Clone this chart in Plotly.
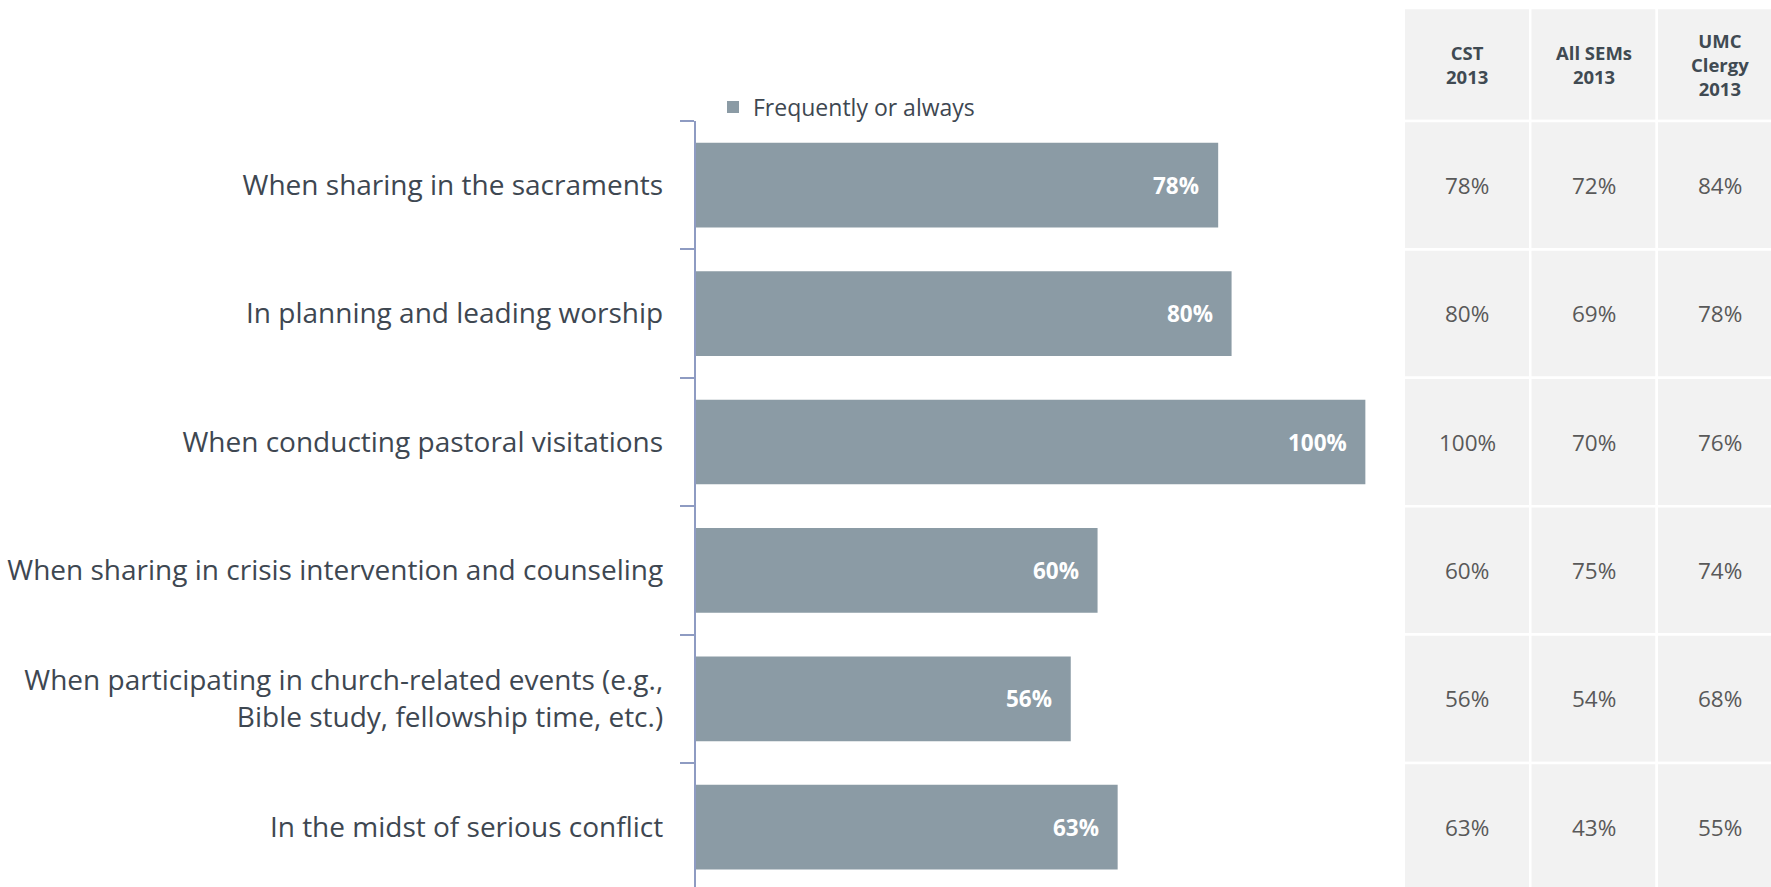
import plotly.graph_objects as go

# ---- data ----
categories = [
    "When sharing in the sacraments",
    "In planning and leading worship",
    "When conducting pastoral visitations",
    "When sharing in crisis intervention and counseling",
    "When participating in church-related events (e.g.,<br>Bible study, fellowship time, etc.)",
    "In the midst of serious conflict",
]
frequently_or_always = [78, 80, 100, 60, 56, 63]

table_headers = ["CST<br>2013", "All SEMs<br>2013", "UMC<br>Clergy<br>2013"]
cst_2013 = [78, 80, 100, 60, 56, 63]
all_sems_2013 = [72, 69, 70, 75, 54, 43]
umc_clergy_2013 = [84, 78, 76, 74, 68, 55]
table_columns = [cst_2013, all_sems_2013, umc_clergy_2013]

# ---- geometry (pixels) ----
W, H = 1771, 887
axis_px = 695.5          # x position of the category axis
full_px = 1365.6         # x position of 100%
plot_top = 121.0         # top of first category band
band = 128.4             # height of one category band
table_left = 1403.75
col_w = 126.5
table_top = 8.0

FONT = "Open Sans"
BAR = "#8B9BA5"
AXIS = "#8E9BC2"
LABEL = "#3E4751"
CELL_TXT = "#595959"

y_bottom = -0.5 + (H - plot_top) / band
header_top = -0.5 - (plot_top - table_top) / band

fig = go.Figure()
fig.add_trace(go.Bar(
    x=frequently_or_always,
    y=categories,
    orientation="h",
    name="Frequently or always",
    marker=dict(color=BAR, line=dict(width=0)),
    hoverinfo="x+y",
))

annotations = []
# value labels inside bar ends
for cat, v in zip(categories, frequently_or_always):
    annotations.append(dict(
        x=v, y=cat, xref="x", yref="y", text=f"{v}%",
        xanchor="right", yanchor="middle", xshift=-17, showarrow=False,
        font=dict(family=FONT, size=22.5, color="white", weight="bold"),
    ))

# comparison table drawn on its own axes
shapes = []
for j, (head, col) in enumerate(zip(table_headers, table_columns)):
    shapes.append(dict(
        type="rect", xref="x2", yref="y2",
        x0=j - 0.5, x1=j + 0.5, y0=header_top, y1=-0.5,
        fillcolor="#F2F2F2", line=dict(color="white", width=2.5), layer="below",
    ))
    annotations.append(dict(
        x=j, y=(header_top - 0.5) / 2, xref="x2", yref="y2", text=head,
        showarrow=False, xanchor="center", yanchor="middle", align="center",
        font=dict(family=FONT, size=18.5, color="#404A52", weight="bold"),
    ))
    for i, v in enumerate(col):
        shapes.append(dict(
            type="rect", xref="x2", yref="y2",
            x0=j - 0.5, x1=j + 0.5, y0=i - 0.5, y1=i + 0.5,
            fillcolor="#F2F2F2", line=dict(color="white", width=2.5), layer="below",
        ))
        annotations.append(dict(
            x=j, y=i, xref="x2", yref="y2", text=f"{v}%",
            showarrow=False, xanchor="center", yanchor="middle",
            font=dict(family=FONT, size=22.5, color=CELL_TXT),
        ))

fig.update_layout(
    width=W, height=H,
    margin=dict(l=0, r=0, t=0, b=0),
    paper_bgcolor="white", plot_bgcolor="white",
    bargap=0.34,
    showlegend=True,
    legend=dict(
        x=713 / W, xanchor="left", y=1 - 107 / H, yanchor="middle",
        font=dict(family=FONT, size=23, color=LABEL),
        bgcolor="rgba(0,0,0,0)",
    ),
    xaxis=dict(
        domain=[axis_px / W, full_px / W], range=[0, 100],
        showgrid=False, zeroline=False, showline=False, showticklabels=False,
        fixedrange=True,
    ),
    yaxis=dict(
        domain=[0, 1 - plot_top / H],
        type="category", categoryorder="array", categoryarray=categories,
        range=[y_bottom, -0.5],
        showline=True, linecolor=AXIS, linewidth=1.5,
        ticks="outside", tickson="boundaries", ticklen=14,
        tickcolor=AXIS, tickwidth=1.5,
        ticklabelstandoff=25,
        tickfont=dict(family=FONT, size=28, color=LABEL),
        showgrid=False, zeroline=False,
    ),
    xaxis2=dict(
        domain=[table_left / W, 1],
        range=[-0.5, -0.5 + (W - table_left) / col_w],
        anchor="y2", visible=False, fixedrange=True,
    ),
    yaxis2=dict(
        domain=[0, 1 - table_top / H],
        range=[y_bottom, header_top],
        anchor="x2", visible=False, fixedrange=True,
    ),
    shapes=shapes,
    annotations=annotations,
)

fig.write_html("out.html")
